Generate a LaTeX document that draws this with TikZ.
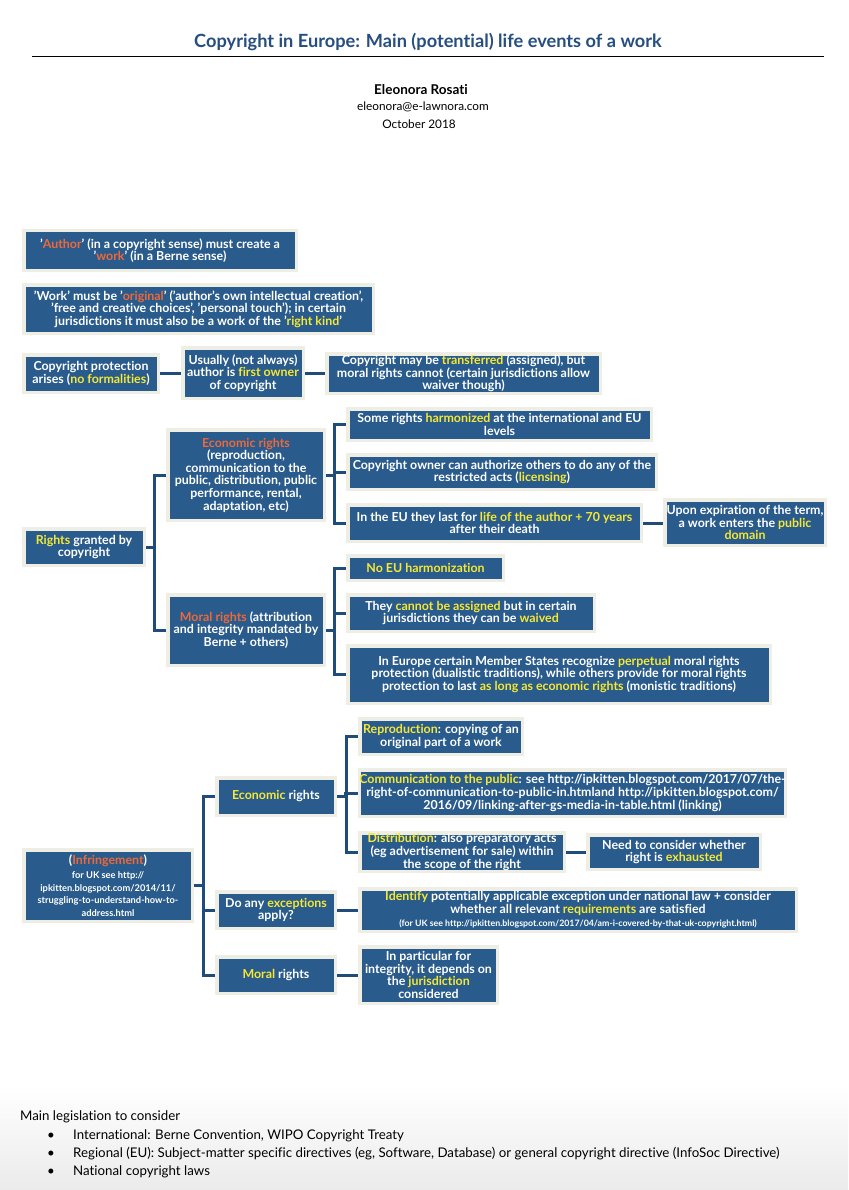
\documentclass[tikz,border=0pt]{standalone}
\usepackage{fontspec}
\setmainfont{Lato}[Ligatures={TeX,CommonOff}]
\usetikzlibrary{positioning}
\definecolor{boxblue}{RGB}{41,91,140}
\definecolor{frame}{RGB}{239,238,228}
\definecolor{conn}{RGB}{31,76,122}
\definecolor{orng}{RGB}{240,104,56}
\definecolor{yllw}{RGB}{246,232,52}
\definecolor{titleblue}{RGB}{38,78,128}
\newcommand\yel[1]{\textcolor{yllw}{#1}}
\newcommand\org[1]{\textcolor{orng}{#1}}
\newcommand\smallurl{\fontsize{9.3}{9.3}\selectfont}
\newcommand\tinyurl{\fontsize{8.8}{9}\selectfont}
\tikzset{
  box/.style={draw=frame, line width=3.5pt, fill=boxblue, text=white, align=center,
    inner sep=0pt, font=\bfseries\fontsize{12.4}{12.6}\selectfont},
  conn/.style={draw=conn, line width=3pt, line join=miter},
  plain/.style={inner sep=0pt, align=center},
  legtext/.style={inner sep=0pt, font=\fontsize{13.3}{15}\selectfont}
}
\begin{document}
\begin{tikzpicture}[x=1pt,y=-1pt]
\useasboundingbox (0,0) rectangle (848,1190);
\fill[white] (0,0) rectangle (848,1190);
\shade[top color=white, bottom color=black!8] (0,1085) rectangle (848,1190);

% header
\node[plain, text=titleblue, font=\bfseries\fontsize{18.2}{20}\selectfont] (title) at (428,42) {Copyright in Europe: Main (potential) life events of a work};
\coordinate (ruleL) at (32,56);
\coordinate (ruleR) at (824,56);
\draw[line width=0.8pt] (ruleL) -- (ruleR);
\node[plain, font=\bfseries\fontsize{13.5}{15}\selectfont] (authorname) at (421,90) {Eleonora Rosati};
\node[plain, font=\fontsize{11.8}{13}\selectfont] (email) at (423,107) {eleonora@e-lawnora.com};
\node[plain, font=\fontsize{11.8}{13}\selectfont] (date) at (419,124) {October 2018};

% top boxes
\node[box, minimum width=272.5, minimum height=39.5] (author) at (160,250.5)
 {'\org{Author}' (in a copyright sense) must create a\\ '\org{work}' (in a Berne sense)};
\node[box, minimum width=349.5, minimum height=48.5] (work) at (198.5,309)
 {'Work' must be '\org{original}' ('author's own intellectual creation',\\ 'free and creative choices', 'personal touch'); in certain\\ jurisdictions it must also be a work of the '\yel{right kind}'};
\node[box, minimum width=134.5, minimum height=37.5] (arises) at (91,373.5)
 {Copyright protection\\ arises (\yel{no formalities})};
\node[box, minimum width=120.5, minimum height=50.5] (owner) at (243,373)
 {Usually (not always)\\ author is \yel{first owner}\\ of copyright};
\node[box, minimum width=273.5, minimum height=39.5] (transfer) at (463.5,373.5)
 {Copyright may be \yel{transferred} (assigned), but\\ moral rights cannot (certain jurisdictions allow\\ waiver though)};
\draw[conn] (arises.east) -- (owner.west |- arises.east);
\draw[conn] (owner.east |- transfer.west) -- (transfer.west);

% rights section
\node[box, minimum width=120.5, minimum height=36.5] (rights) at (84,547)
 {\yel{Rights} granted by\\ copyright};
\node[box, minimum width=156.5, minimum height=90.5] (econ) at (246,475)
 {\org{Economic rights}\\ (reproduction,\\ communication to the\\ public, distribution, public\\ performance, rental,\\ adaptation, etc)};
\node[box, minimum width=156.5, minimum height=70.5] (moral) at (246,630)
 {\org{Moral rights} (attribution\\ and integrity mandated by\\ Berne + others)};
\node[box, minimum width=303.5, minimum height=31.5] (harm) at (499.5,424.5)
 {Some rights \yel{harmonized} at the international and EU\\ levels};
\node[box, minimum width=308.5, minimum height=34.5] (licens) at (502,472)
 {Copyright owner can authorize others to do any of the\\ restricted acts (\yel{licensing})};
\node[box, minimum width=293.5, minimum height=36.5] (term) at (494.5,523)
 {In the EU they last for \yel{life of the author + 70 years}\\ after their death};
\node[box, minimum width=160.5, minimum height=45.5] (pd) at (745,522.5)
 {Upon expiration of the term,\\ a work enters the \yel{public}\\ \yel{domain}};
\node[box, minimum width=155.5, minimum height=24.5] (noeu) at (425.5,568)
 {\yel{No EU harmonization}};
\node[box, minimum width=246.5, minimum height=36.5] (assign) at (471,613)
 {They \yel{cannot be assigned} but in certain\\ jurisdictions they can be \yel{waived}};
\node[box, minimum width=422.5, minimum height=57.5] (perp) at (559,674.5)
 {In Europe certain Member States recognize \yel{perpetual} moral rights\\ protection (dualistic traditions), while others provide for moral rights\\ protection to last \yel{as long as economic rights} (monistic traditions)};

\draw[conn] (econ.west) -- ++(-12,0) |- (rights.east);
\draw[conn] (moral.west) -- ++(-12,0) |- (rights.east);
\draw[conn] (harm.west) -- ++(-12,0) |- (econ.east);
\draw[conn] (licens.west) -- ++(-12,0) |- (econ.east);
\draw[conn] (term.west) -- ++(-12,0) |- (econ.east);
\draw[conn] (term.east) -- (pd.west |- term.east);
\draw[conn] (noeu.west) -- ++(-12,0) |- (moral.east);
\draw[conn] (assign.west) -- ++(-12,0) |- (moral.east);
\draw[conn] (perp.west) -- ++(-12,0) |- (moral.east);

% infringement section
\node[box, minimum width=168.5, minimum height=71.5] (infr) at (108,885.5)
 {(\org{Infringement})\\[2pt] {\smallurl for UK see http://}\\ {\smallurl ipkitten.blogspot.com/2014/11/}\\ {\smallurl struggling-to-understand-how-to-}\\ {\smallurl address.html}};
\node[box, minimum width=118.5, minimum height=37.5] (econb) at (276,796.5)
 {\yel{Economic} rights};
\node[box, minimum width=118.5, minimum height=36.5] (exc) at (276,910)
 {Do any \yel{exceptions}\\ apply?};
\node[box, minimum width=118.5, minimum height=36.5] (moralb) at (276,975)
 {\yel{Moral} rights};
\node[box, minimum width=162.5, minimum height=35.5] (repro) at (441,736.5)
 {\yel{Reproduction}: copying of an\\ original part of a work};
\node[box, minimum width=425.5, minimum height=46.5] (comm) at (572.5,793)
 {\yel{Communication to the public}: see http://ipkitten.blogspot.com/2017/07/the-\\ right-of-communication-to-public-in.htmland http://ipkitten.blogspot.com/\\ 2016/09/linking-after-gs-media-in-table.html (linking)};
\node[box, minimum width=204.5, minimum height=38.5] (distr) at (462,852)
 {\yel{Distribution}: also preparatory acts\\ (eg advertisement for sale) within\\ the scope of the right};
\node[box, minimum width=172.5, minimum height=34.5] (exh) at (674,852)
 {Need to consider whether\\ right is \yel{exhausted}};
\node[box, minimum width=436.5, minimum height=42.5] (ident) at (578,910)
 {\yel{Identify} potentially applicable exception under national law + consider\\ whether all relevant \yel{requirements} are satisfied\\[1pt] {\tinyurl (for UK see http://ipkitten.blogspot.com/2017/04/am-i-covered-by-that-uk-copyright.html)}};
\node[box, minimum width=137.5, minimum height=56.5] (juris) at (428.5,975)
 {In particular for\\ integrity, it depends on\\ the \yel{jurisdiction}\\ considered};

\draw[conn] (econb.west) -- ++(-12,0) |- (infr.east);
\draw[conn] (exc.west) -- ++(-12,0) |- (infr.east);
\draw[conn] (moralb.west) -- ++(-12,0) |- (infr.east);
\draw[conn] (repro.west) -- ++(-12,0) |- (econb.east);
\draw[conn] (comm.west) -- ++(-12,0) |- (econb.east);
\draw[conn] (distr.west) -- ++(-12,0) |- (econb.east);
\draw[conn] (distr.east) -- (exh.west |- distr.east);
\draw[conn] (exc.east) -- (ident.west |- exc.east);
\draw[conn] (moralb.east) -- (juris.west |- moralb.east);

% legislation
\node[anchor=west, legtext] (leg) at (20,1117) {Main legislation to consider};
\node[legtext] (b1) at (51,1136) {\textbullet};
\node[legtext] (b2) at (51,1154) {\textbullet};
\node[legtext] (b3) at (51,1172) {\textbullet};
\node[anchor=west, legtext] (l1) at (73,1136) {International: Berne Convention, WIPO Copyright Treaty};
\node[anchor=west, legtext] (l2) at (73,1154) {Regional (EU): Subject-matter specific directives (eg, Software, Database) or general copyright directive (InfoSoc Directive)};
\node[anchor=west, legtext] (l3) at (73,1172) {National copyright laws};
\end{tikzpicture}
\end{document}
